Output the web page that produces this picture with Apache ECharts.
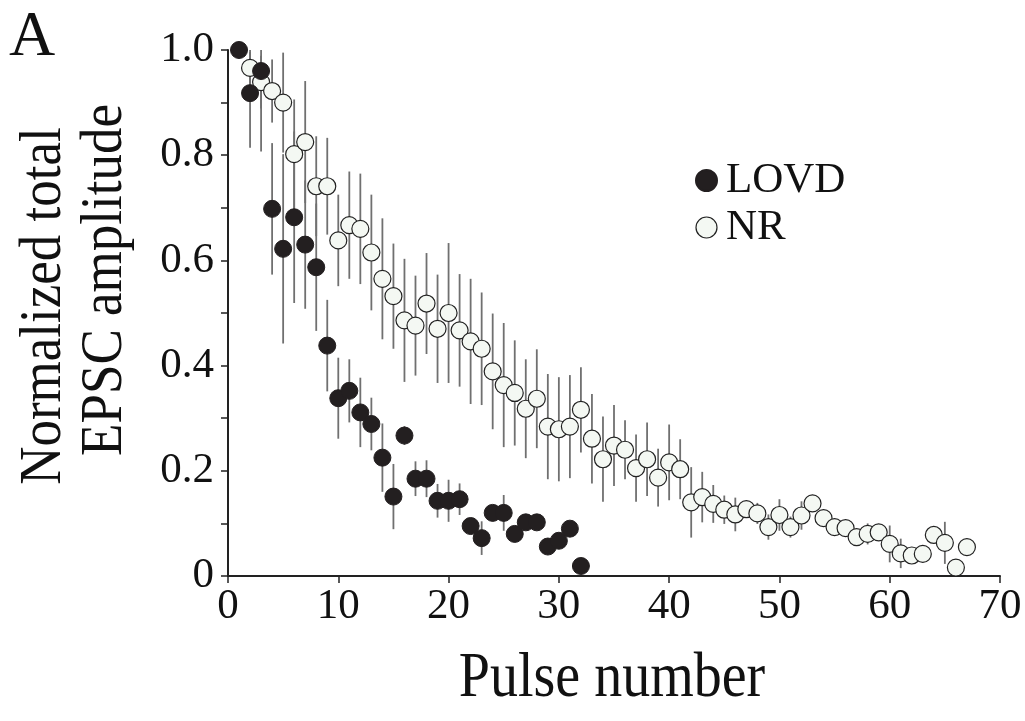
<!DOCTYPE html>
<html>
<head>
<meta charset="utf-8">
<script src="https://cdn.jsdelivr.net/npm/echarts@6/dist/echarts.min.js"></script>
<style>
html,body{margin:0;padding:0;background:#fff;}
#chart{width:1025px;height:721px;}
</style>
</head>
<body>
<div id="chart"></div>
<script>
// ---- data ----
const lovdPulse = [1,2,3,4,5,6,7,8,9,10,11,12,13,14,15,16,17,18,19,20,21,22,23,24,25,26,27,28,29,30,31,32];
const lovdMean  = [1.0,0.918,0.960,0.698,0.622,0.682,0.630,0.587,0.438,0.338,0.352,0.311,0.289,0.225,0.151,0.267,0.185,0.185,0.143,0.143,0.146,0.095,0.072,0.120,0.120,0.080,0.102,0.102,0.056,0.067,0.090,0.019];
const lovdSem   = [0,0.104,0.153,0.125,0.180,0.163,0.122,0.121,0.087,0.077,0.060,0.066,0.050,0.065,0.062,0.018,0.033,0.035,0.032,0.040,0.030,0.015,0.032,0.015,0.034,0.015,0.015,0.015,0.015,0.015,0.015,0.010];

const nrPulse = [2,3,4,5,6,7,8,9,10,11,12,13,14,15,16,17,18,19,20,21,22,23,24,25,26,27,28,29,30,31,32,33,34,35,36,37,38,39,40,41,42,43,44,45,46,47,48,49,50,51,52,53,54,55,56,57,58,59,60,61,62,63,64,65,66,67];
const nrMean  = [0.966,0.939,0.922,0.900,0.802,0.825,0.741,0.741,0.638,0.667,0.660,0.615,0.565,0.532,0.486,0.476,0.518,0.470,0.500,0.467,0.446,0.432,0.389,0.363,0.348,0.318,0.337,0.284,0.279,0.284,0.316,0.261,0.222,0.248,0.240,0.205,0.222,0.187,0.216,0.203,0.140,0.150,0.137,0.126,0.117,0.127,0.119,0.093,0.116,0.093,0.115,0.138,0.110,0.093,0.091,0.074,0.080,0.083,0.061,0.043,0.039,0.042,0.078,0.063,0.016,0.055];
const nrSem   = [0.030,0.050,0.060,0.095,0.104,0.116,0.095,0.092,0.087,0.102,0.105,0.110,0.115,0.100,0.117,0.095,0.096,0.103,0.133,0.107,0.119,0.107,0.110,0.118,0.100,0.094,0.094,0.100,0.099,0.098,0.081,0.085,0.081,0.077,0.056,0.064,0.070,0.055,0.072,0.057,0.067,0.048,0.036,0.027,0.032,0.010,0.020,0.024,0.030,0.020,0.027,0.010,0.010,0.010,0.010,0.010,0.020,0.010,0.035,0.028,0.010,0.010,0.010,0.040,0.000,0.010];

const xTickValues = [0,10,20,30,40,50,60,70];
const xTickLabels = ['0','10','20','30','40','50','60','70'];
const yTickValues = [0,0.2,0.4,0.6,0.8,1.0];
const yTickLabels = ['0','0.2','0.4','0.6','0.8','1.0'];

const seriesNames = ['LOVD','NR'];
const xTitle = 'Pulse number';
const yTitle1 = 'Normalized total';
const yTitle2 = 'EPSC amplitude';
const panelLabel = 'A';

// ---- build ----
const FONT = '"Liberation Serif", "Times New Roman", serif';
const Y_MAX = 1.0;

function pairs(xs, ys){ return xs.map((x,i)=>[x, ys[i]]); }
function errRows(xs, ys, es){ return xs.map((x,i)=>[x, ys[i], es[i]]); }

function labelFor(vals, texts, v){
  for (let i=0;i<vals.length;i++){ if (Math.abs(vals[i]-v) < 1e-6) return texts[i]; }
  return '';
}

function errRender(params, api){
  const x = api.value(0), m = api.value(1), e = api.value(2);
  if (!e) return null;
  const lo = api.coord([x, Math.max(0, m - e)]);
  const hi = api.coord([x, Math.min(Y_MAX, m + e)]);
  return {
    type: 'line',
    shape: {x1: lo[0], y1: lo[1], x2: hi[0], y2: hi[1]},
    style: {stroke: '#707070', lineWidth: 1.8}
  };
}

const chart = echarts.init(document.getElementById('chart'), null, {renderer:'canvas'});
chart.setOption({
  animation: false,
  backgroundColor: '#ffffff',
  grid: {left: 228, right: 25, top: 50, bottom: 145},
  legend: {
    data: [
      {name: seriesNames[0], icon: 'circle', itemStyle: {color: '#231f20', borderColor: '#231f20'}},
      {name: seriesNames[1], icon: 'circle', itemStyle: {color: '#f4f8f3', borderColor: '#222', borderWidth: 1.2}}
    ],
    orient: 'vertical',
    left: 690,
    top: 153,
    itemWidth: 23,
    itemHeight: 21,
    itemGap: 2,
    textStyle: {fontFamily: FONT, fontSize: 43, color: '#111', lineHeight: 45, padding: [0,0,0,3]},
    selectedMode: false
  },
  xAxis: {
    type: 'value',
    min: 0, max: 70, interval: 10,
    splitLine: {show: false},
    axisLine: {show: true, onZero: false, lineStyle: {color: '#222', width: 2}},
    axisTick: {show: true, inside: false, length: 7, lineStyle: {color: '#222', width: 1.5}},
    axisLabel: {
      fontFamily: FONT, fontSize: 43, color: '#111', margin: 9,
      formatter: v => labelFor(xTickValues, xTickLabels, v)
    }
  },
  yAxis: {
    type: 'value',
    min: 0, max: Y_MAX, interval: 0.1,
    splitLine: {show: false},
    axisLine: {show: true, onZero: false, lineStyle: {color: '#222', width: 2}},
    axisTick: {show: true, inside: false, length: 7, lineStyle: {color: '#222', width: 1.5}},
    axisLabel: {
      fontFamily: FONT, fontSize: 43, color: '#111', margin: 14,
      formatter: v => labelFor(yTickValues, yTickLabels, v)
    }
  },
  graphic: [
    {type: 'text', left: 9, top: 6, style: {text: panelLabel, font: '64px ' + FONT, fill: '#111'}},
    {type: 'text', x: 44, y: 306, rotation: Math.PI/2, scaleX: 1, scaleY: 1.12,
     style: {text: yTitle1, font: '53px ' + FONT, fill: '#111', align: 'center', verticalAlign: 'middle'}},
    {type: 'text', x: 105, y: 280, rotation: Math.PI/2, scaleX: 1, scaleY: 1.12,
     style: {text: yTitle2, font: '53px ' + FONT, fill: '#111', align: 'center', verticalAlign: 'middle'}},
    {type: 'text', x: 612, y: 680, scaleX: 1, scaleY: 1.12,
     style: {text: xTitle, font: '56px ' + FONT, fill: '#111', align: 'center', verticalAlign: 'middle'}}
  ],
  series: [
    {
      name: 'NR err', type: 'custom', renderItem: errRender,
      data: errRows(nrPulse, nrMean, nrSem), z: 1, silent: true
    },
    {
      name: 'LOVD err', type: 'custom', renderItem: errRender,
      data: errRows(lovdPulse, lovdMean, lovdSem), z: 1, silent: true
    },
    {
      name: seriesNames[1], type: 'scatter', symbol: 'circle', symbolSize: 17,
      data: pairs(nrPulse, nrMean), z: 3,
      itemStyle: {color: '#f4f8f3', borderColor: '#222', borderWidth: 1.2, opacity: 1}
    },
    {
      name: seriesNames[0], type: 'scatter', symbol: 'circle', symbolSize: 17,
      data: pairs(lovdPulse, lovdMean), z: 4,
      itemStyle: {color: '#231f20', borderColor: '#231f20', borderWidth: 1, opacity: 1}
    }
  ]
});
</script>
</body>
</html>
